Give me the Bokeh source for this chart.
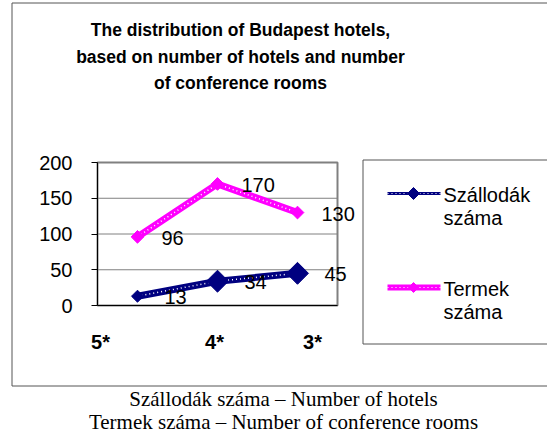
import math
from bokeh.plotting import figure
from bokeh.models import (ColumnDataSource, LabelSet, Label, LinearAxis,
                          FixedTicker, Range1d)
from bokeh.core.properties import value
from bokeh.embed import file_html
from bokeh.resources import INLINE

# ---------------- data ----------------
title_lines = ["The distribution of Budapest hotels,",
               "based on number of hotels and number",
               "of conference rooms"]
categories = ["5*", "4*", "3*"]
hotels = [13, 34, 45]          # Szállodák száma
rooms = [96, 170, 130]         # Termek száma
series_names = ["Szállodák száma", "Termek száma"]
y_ticks = [0, 50, 100, 150, 200]
caption_lines = ["Szállodák száma – Number of hotels",
                 "Termek száma – Number of conference rooms"]

# ---------------- style / layout ----------------
NAVY = "#000080"
MAGENTA = "#FF00FF"
GRID = "#808080"
BOX = "#555555"
SANS = "Liberation Sans"
SERIF = "Liberation Serif"
W, H = 547, 435
CAT0_PX, CAT_STEP = 137, 80        # page x of first category, spacing
Y0_PX, Y200_PX = 305, 162          # page y of value 0 and 200
cat_label_dx = [-37, -3, 15]       # horizontal offsets of category labels
hotel_marker_sizes = [8.5, 15.5, 15.5]
room_marker_sizes = [9, 9, 9]


def dx(px):
    return (px - CAT0_PX) / CAT_STEP


def dy(py):
    return (Y0_PX - py) * 200.0 / (Y0_PX - Y200_PX)


p = figure(width=W, height=H, output_backend="svg", toolbar_location=None,
           x_range=Range1d(dx(0), dx(W)), y_range=Range1d(dy(H), dy(0)),
           x_axis_location=None, y_axis_location=None,
           min_border=0)
p.background_fill_color = "white"
p.border_fill_color = "white"
p.outline_line_color = None
p.grid.visible = False

n = len(categories)
x_lo, x_hi = -0.5, n - 0.5

# grid lines and plot-area border
p.segment(x0=[x_lo] * len(y_ticks), x1=[x_hi] * len(y_ticks), y0=y_ticks, y1=y_ticks,
          line_color=GRID, line_width=1)
p.quad(left=[x_lo], right=[x_hi], bottom=[y_ticks[0]], top=[y_ticks[-1]],
       fill_color=None, line_color=GRID, line_width=2)

# axes
yax = LinearAxis(fixed_location=x_lo, ticker=FixedTicker(ticks=y_ticks),
                 bounds=(y_ticks[0], y_ticks[-1]))
yax.major_label_text_font = SANS
yax.major_label_text_font_size = "20px"
yax.major_label_text_color = "black"
yax.major_label_standoff = 19
yax.major_tick_out = 6
yax.major_tick_in = 0
yax.minor_tick_line_color = None
yax.axis_line_color = "black"
yax.major_tick_line_color = "black"
p.add_layout(yax, "left")

xax = LinearAxis(fixed_location=y_ticks[0], ticker=FixedTicker(ticks=[]),
                 bounds=(x_lo, x_hi))
xax.minor_tick_line_color = None
xax.major_tick_line_color = None
xax.axis_line_color = "black"
xax.major_label_text_font_size = "0px"
p.add_layout(xax, "below")

xs = list(range(n))
src = ColumnDataSource(dict(
    x=xs, hotels=hotels, rooms=rooms,
    hl=[str(v) for v in hotels], rl=[str(v) for v in rooms],
    hs=hotel_marker_sizes, rs=room_marker_sizes))

# Termek száma
p.line("x", "rooms", source=src, line_color=MAGENTA, line_width=7)
p.line("x", "rooms", source=src, line_color="white", line_width=1.5, line_dash="1 3")
p.scatter("x", "rooms", source=src, marker="square", angle=math.pi / 4, size="rs",
          fill_color=MAGENTA, line_color=MAGENTA)

# Szállodák száma
p.line("x", "hotels", source=src, line_color=NAVY, line_width=7)
p.line("x", "hotels", source=src, line_color="white", line_width=1.5, line_dash="1 3")
p.scatter("x", "hotels", source=src, marker="square", angle=math.pi / 4, size="hs",
          fill_color=NAVY, line_color=NAVY)

for col, txt, off in (("rooms", "rl", 24), ("hotels", "hl", 27)):
    p.add_layout(LabelSet(x="x", y=col, text=txt, source=src, x_offset=off, y_offset=-1,
                          text_baseline="middle", text_align="left",
                          text_font=value(SANS), text_font_size="20px",
                          text_color="black"))

# category labels
for i, c in enumerate(categories):
    p.add_layout(Label(x=i, y=dy(341), text=c, x_offset=cat_label_dx[i],
                       text_align="center", text_baseline="middle",
                       text_font=SANS, text_font_size="20px",
                       text_font_style="bold", text_color="black"))

# title
for j, t in enumerate(title_lines):
    p.add_layout(Label(x=dx(240), y=dy(29.7 + 26.5 * j), text=t,
                       text_align="center", text_baseline="middle",
                       text_font=SANS, text_font_size="17.5px",
                       text_font_style="bold", text_color="black"))

# legend
leg_colors = [NAVY, MAGENTA]
leg_y = [193, 287]
leg_lw = [3, 6]
leg_size = [8.5, 7]
for k, name in enumerate(series_names):
    yy = leg_y[k]
    p.line([dx(387), dx(440)], [dy(yy), dy(yy)], line_color=leg_colors[k],
           line_width=leg_lw[k])
    p.line([dx(387), dx(440)], [dy(yy), dy(yy)], line_color="white",
           line_width=1.2, line_dash="1 3")
    p.scatter([dx(413)], [dy(yy)], marker="square", angle=math.pi / 4,
              size=leg_size[k], fill_color=leg_colors[k], line_color=leg_colors[k])
    for m, word in enumerate(name.split(" ")):
        p.add_layout(Label(x=dx(443), y=dy(yy + 1 + 23 * m), text=word,
                           text_align="left", text_baseline="middle",
                           text_font=SANS, text_font_size="20px", text_color="black"))

# legend box and chart box
p.quad(left=[dx(362.5)], right=[dx(600)], top=[dy(159.5)], bottom=[dy(343.5)],
       fill_color=None, line_color=BOX, line_width=1)
p.quad(left=[dx(11.5)], right=[dx(600)], top=[dy(2.5)], bottom=[dy(385.5)],
       fill_color=None, line_color=BOX, line_width=1)

# caption
for j, t in enumerate(caption_lines):
    p.add_layout(Label(x=dx(283), y=dy(398.5 + 23 * j), text=t,
                       text_align="center", text_baseline="middle",
                       text_font=SERIF, text_font_size="21px", text_color="black"))

open("out.html", "w").write(file_html(p, INLINE))
